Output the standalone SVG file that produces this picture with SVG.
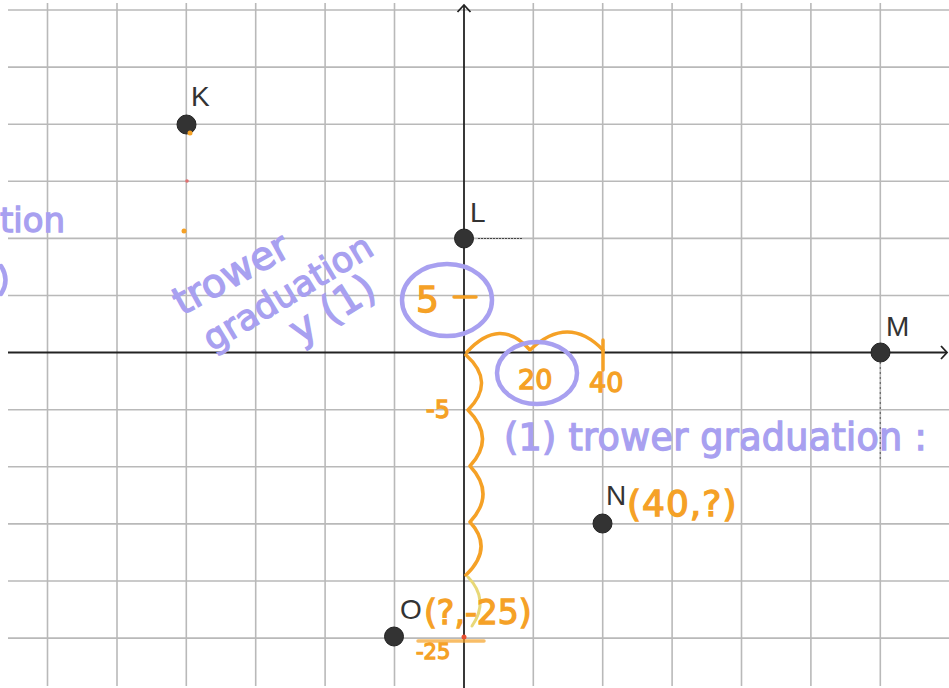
<svg xmlns="http://www.w3.org/2000/svg" width="949" height="688" viewBox="0 0 949 688">
<style>
.grid line{stroke:#b9b9b9;stroke-width:1.6}
.axis{stroke:#222;stroke-width:1.8;fill:none}
.pt{fill:#333;stroke:#222;stroke-width:1}
.lbl{font-family:"Liberation Sans",Arial,sans-serif;font-size:28px;fill:#333}
.or{stroke:#f5a126;stroke-width:3.5;fill:none;stroke-linecap:round;stroke-linejoin:round}
.ot{font-family:"DejaVu Sans","Noto Sans",sans-serif;fill:#f5a126;stroke:#f5a126;stroke-width:1.3}
.pu{stroke:#a8a0f0;stroke-width:4.5;fill:none;stroke-linecap:round}
.pt2{font-family:"DejaVu Sans","Noto Sans",sans-serif;fill:#a8a0f0;stroke:#a8a0f0;stroke-width:1.3}
</style>
<rect width="949" height="688" fill="#fff"/>
<g class="grid">
<line x1="47.5" y1="3" x2="47.5" y2="686"/><line x1="117" y1="3" x2="117" y2="686"/><line x1="186.3" y1="3" x2="186.3" y2="686"/><line x1="255.7" y1="3" x2="255.7" y2="686"/><line x1="325.1" y1="3" x2="325.1" y2="686"/><line x1="394.5" y1="3" x2="394.5" y2="686"/><line x1="533.3" y1="3" x2="533.3" y2="686"/><line x1="602.7" y1="3" x2="602.7" y2="686"/><line x1="672.1" y1="3" x2="672.1" y2="686"/><line x1="741.5" y1="3" x2="741.5" y2="686"/><line x1="810.9" y1="3" x2="810.9" y2="686"/><line x1="880.3" y1="3" x2="880.3" y2="686"/>
<line x1="8" y1="10" x2="949" y2="10"/><line x1="8" y1="67.1" x2="949" y2="67.1"/><line x1="8" y1="124.2" x2="949" y2="124.2"/><line x1="8" y1="181.3" x2="949" y2="181.3"/><line x1="8" y1="238.4" x2="949" y2="238.4"/><line x1="8" y1="295.5" x2="949" y2="295.5"/><line x1="8" y1="409.7" x2="949" y2="409.7"/><line x1="8" y1="466.8" x2="949" y2="466.8"/><line x1="8" y1="523.9" x2="949" y2="523.9"/><line x1="8" y1="581" x2="949" y2="581"/><line x1="8" y1="638.1" x2="949" y2="638.1"/>
</g>
<g id="axes">
<line class="axis" x1="8" y1="352.5" x2="946" y2="352.5"/>
<polyline class="axis" points="941,346 947,352.5 941,359"/>
<line class="axis" x1="464" y1="5" x2="464" y2="688"/>
<polyline class="axis" points="457.5,12 464,5 470.5,12"/>
<line x1="478" y1="238.5" x2="522" y2="238.5" stroke="#444" stroke-width="1.2" stroke-dasharray="2,1"/>
<line x1="880.3" y1="362" x2="880.3" y2="460" stroke="#666" stroke-width="1.2" stroke-dasharray="2,3"/>
</g>
<g id="K"><circle class="pt" cx="186.5" cy="124.5" r="9.5"/><text class="lbl" x="191" y="106">K</text></g>
<g id="L"><circle class="pt" cx="464" cy="238.5" r="9.5"/><text class="lbl" x="470" y="222">L</text></g>
<g id="M"><circle class="pt" cx="880.5" cy="352.5" r="9.5"/><text class="lbl" x="886" y="336">M</text></g>
<g id="N"><circle class="pt" cx="602.5" cy="523.5" r="9.5"/><text class="lbl" x="606" y="505">N</text></g>
<g id="O"><circle class="pt" cx="394" cy="636.5" r="9.5"/><text class="lbl" x="400" y="619">O</text></g>
<g id="orange-marks">
<circle cx="190" cy="133" r="2.5" fill="#f5a126"/>
<circle cx="187" cy="181" r="1.8" fill="#e07070"/>
<circle cx="184" cy="231" r="2.5" fill="#f5a126"/>
<line class="or" x1="454" y1="297" x2="476" y2="297"/>
<path class="or" d="M467,352 Q500,316 530,350 Q568,314 603,350"/>
<line class="or" x1="603" y1="340" x2="603" y2="370"/>
<path class="or" d="M466,355 Q496,382 468,410 Q496,438 470,466 Q496,494 470,522 Q494,548 466,575"/>
<path d="M468,577 Q490,600 472,626" stroke="#e8d878" stroke-width="3" fill="none" stroke-linecap="round"/>
<circle cx="464" cy="637" r="2.5" fill="#e85030"/>
<line class="or" x1="418" y1="641" x2="484" y2="641" stroke-width="3" opacity="0.7"/>
</g>
<g id="orange-text">
<text class="ot" x="416" y="312" font-size="36">5</text>
<text class="ot" x="518" y="389" font-size="27">20</text>
<text class="ot" x="589" y="392" font-size="27">40</text>
<text class="ot" x="426" y="418" font-size="24">-5</text>
<text class="ot" x="627" y="516" font-size="36" letter-spacing="1">(40,?)</text>
<text class="ot" x="424" y="624" font-size="33">(?,-25)</text>
<text class="ot" x="416" y="659" font-size="21">-25</text>
</g>
<g id="purple">
<ellipse class="pu" cx="447" cy="300" rx="45" ry="36"/>
<ellipse class="pu" cx="537" cy="373" rx="40" ry="31"/>
<path class="pu" d="M1,266 Q10,280 1,294"/>
<text class="pt2" x="0" y="232" font-size="34">tion</text>
<text class="pt2" font-size="39" transform="translate(182,316) rotate(-29)">trower</text>
<text class="pt2" font-size="35" transform="translate(212,352) rotate(-31)">graduation</text>
<text class="pt2" font-size="40" transform="translate(300,345) rotate(-32)">y (1)</text>
<text class="pt2" x="504" y="450" font-size="36.5" letter-spacing="0.3">(1) trower graduation :</text>
</g>
</svg>
